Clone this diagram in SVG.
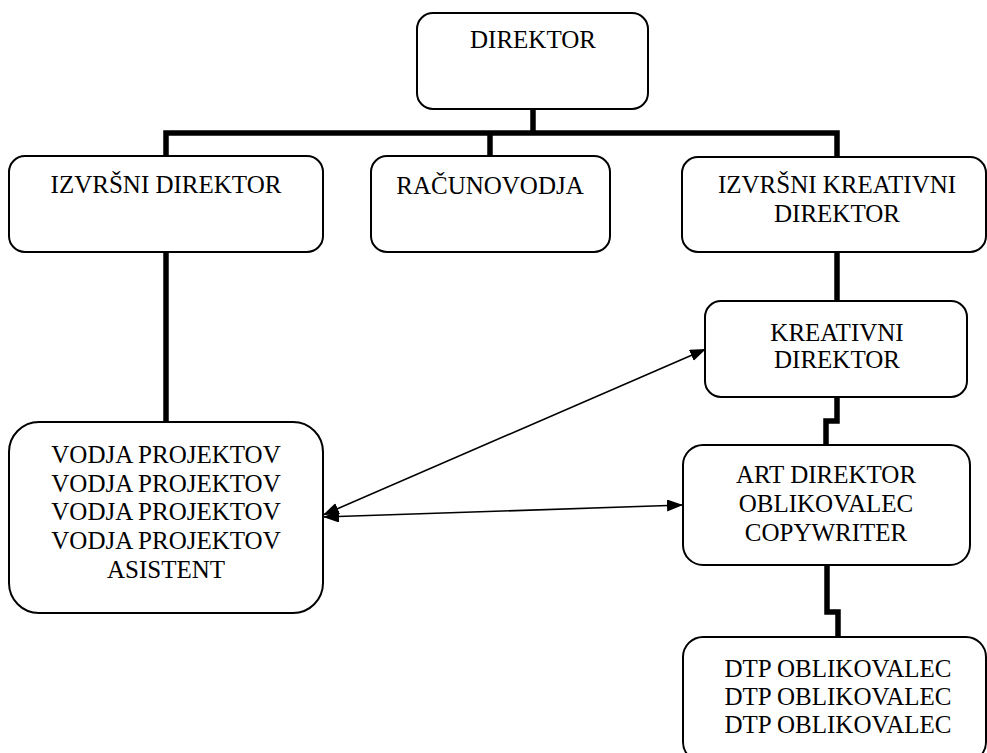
<svg xmlns="http://www.w3.org/2000/svg" width="987" height="753" viewBox="0 0 987 753">
<style>
.box{fill:#fff;stroke:#000;stroke-width:2}
.t{font-family:"Liberation Serif","Times New Roman",serif;font-size:25px;fill:#000;text-anchor:middle}
.bar{fill:none;stroke:#000;stroke-width:5.5;stroke-linejoin:miter}
.arr{fill:none;stroke:#000;stroke-width:1.6;marker-start:url(#ah);marker-end:url(#ah)}
</style>
<defs>
<marker id="ah" viewBox="0 0 16 12" refX="16" refY="6" markerWidth="16" markerHeight="12" markerUnits="userSpaceOnUse" orient="auto-start-reverse">
<path d="M0,0 L16,6 L0,12 Z" fill="#000"/>
</marker>
</defs>
<rect width="987" height="753" fill="#fff"/>
<g id="connectors">
<path class="bar" d="M533,109 V133"/>
<path class="bar" d="M166,156 V133 H837 V157"/>
<path class="bar" d="M490,133 V156"/>
<path class="bar" d="M166,252 V422"/>
<path class="bar" d="M837,252 V301"/>
<path class="bar" d="M837,397 V421 H826 V445"/>
<path class="bar" d="M827,565 V612 H838 V637"/>
<line class="arr" x1="323" y1="515" x2="706" y2="349"/>
<line class="arr" x1="323" y1="517" x2="683" y2="505"/>
</g>
<g id="n-direktor">
<rect class="box" x="417" y="13" width="231" height="96" rx="16"/>
<text class="t" x="533" y="48">DIREKTOR</text>
</g>
<g id="n-izvrsni">
<rect class="box" x="9" y="156" width="314" height="96" rx="16"/>
<text class="t" x="166" y="193">IZVRŠNI DIREKTOR</text>
</g>
<g id="n-racunovodja">
<rect class="box" x="371" y="156" width="239" height="96" rx="16"/>
<text class="t" x="490" y="194">RAČUNOVODJA</text>
</g>
<g id="n-ikd">
<rect class="box" x="682" y="157" width="304" height="95" rx="16"/>
<text class="t" x="837" y="193">IZVRŠNI KREATIVNI</text>
<text class="t" x="837" y="222">DIREKTOR</text>
</g>
<g id="n-kd">
<rect class="box" x="705" y="301" width="262" height="96" rx="16"/>
<text class="t" x="837" y="341">KREATIVNI</text>
<text class="t" x="837" y="368">DIREKTOR</text>
</g>
<g id="n-art">
<rect class="box" x="683" y="445" width="287" height="120" rx="20"/>
<text class="t" x="826" y="483">ART DIREKTOR</text>
<text class="t" x="826" y="512">OBLIKOVALEC</text>
<text class="t" x="826" y="541">COPYWRITER</text>
</g>
<g id="n-vodja">
<rect class="box" x="9" y="422" width="314" height="191" rx="30"/>
<text class="t" x="166" y="463">VODJA PROJEKTOV</text>
<text class="t" x="166" y="492">VODJA PROJEKTOV</text>
<text class="t" x="166" y="520">VODJA PROJEKTOV</text>
<text class="t" x="166" y="549">VODJA PROJEKTOV</text>
<text class="t" x="166" y="578">ASISTENT</text>
</g>
<g id="n-dtp">
<rect class="box" x="683" y="637" width="303" height="125" rx="20"/>
<text class="t" x="838" y="677">DTP OBLIKOVALEC</text>
<text class="t" x="838" y="705">DTP OBLIKOVALEC</text>
<text class="t" x="838" y="733">DTP OBLIKOVALEC</text>
</g>
</svg>
